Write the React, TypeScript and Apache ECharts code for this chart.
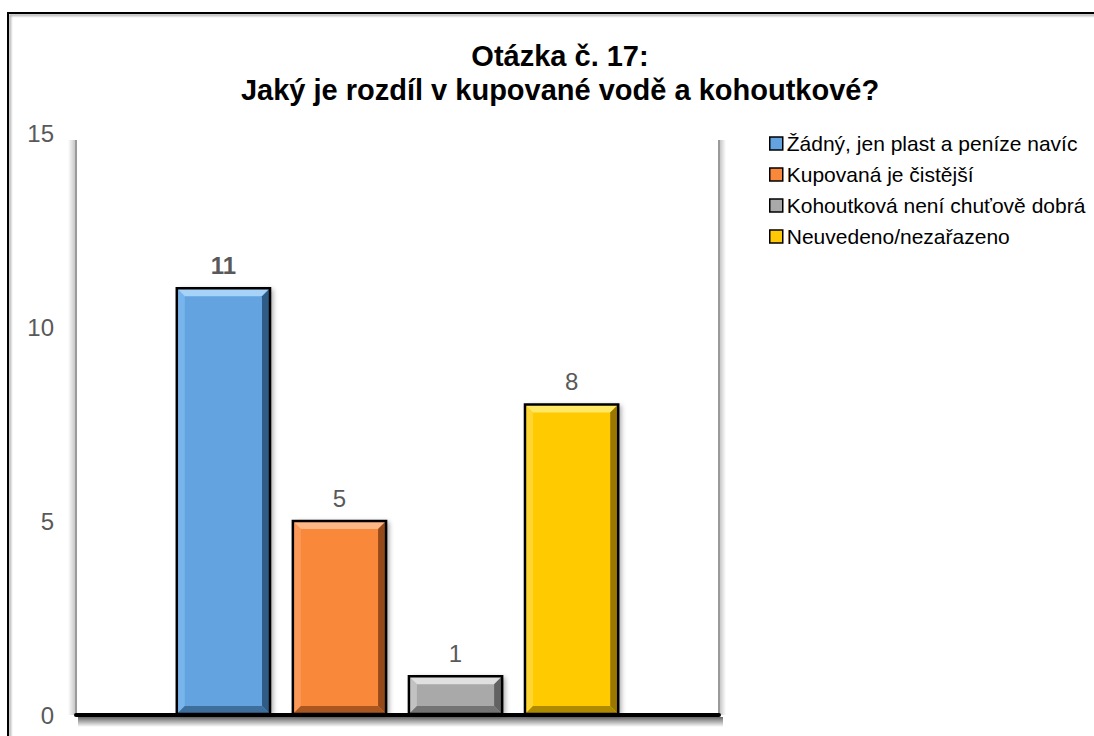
import React, { useEffect, useRef } from 'react';
import * as echarts from 'echarts';

// ---- data ----
const categories: string[] = [''];
const seriesNames: string[] = [
  'Žádný, jen plast a peníze navíc',
  'Kupovaná je čistější',
  'Kohoutková není chuťově dobrá',
  'Neuvedeno/nezařazeno',
];
const seriesValues: number[] = [11, 5, 1, 8];
const yMin = 0;
const yMax = 15;
const yInterval = 5;
const titleLines: string[] = ['Otázka č. 17:', 'Jaký je rozdíl v kupované vodě a kohoutkové?'];

// ---- layout / styles ----
const FONT = '"Liberation Sans", Arial, Helvetica, sans-serif';
const GRID = { left: 76, right: 375, top: 133, bottom: 21 };
const W = 1094;
const H = 736;
const WALL_INSET = 7;
const palettes = [
  { base: '#62A3E0', top: '#A6D3F7', left: '#78B5EC', right: '#2F5C86', bottom: '#3D6E9C' },
  { base: '#F9883A', top: '#FDB887', left: '#FB9858', right: '#94491A', bottom: '#AA5620' },
  { base: '#A9A9A9', top: '#E0E0E0', left: '#C2C2C2', right: '#626262', bottom: '#747474' },
  { base: '#FFCA05', top: '#FFE866', left: '#FFD631', right: '#9A7800', bottom: '#AE8A00' },
];
const labelBold = [true, false, false, false];

function makeRenderItem(idx: number) {
  const p = palettes[idx];
  return (params: any, api: any) => {
    const c = api.value(0);
    const v = api.value(1);
    const base = api.coord([c, 0]);
    const top = api.coord([c, v]);
    const band = api.size([1, 0])[0];
    const n = seriesValues.length;
    const w = band * 0.145;
    const step = band * 0.1805;
    const cx = base[0] + (params.seriesIndex - (n - 1) / 2) * step;
    const x0 = cx - w / 2;
    const x1 = cx + w / 2;
    const y0 = top[1];
    const y1 = base[1] - 1;
    const h = y1 - y0;
    const b = Math.min(8, h / 2 - 1);
    return {
      type: 'group',
      children: [
        {
          type: 'rect',
          shape: { x: x0, y: y0, width: w, height: h },
          style: {
            fill: p.base,
            shadowBlur: 5, shadowOffsetX: 3, shadowOffsetY: 1,
            shadowColor: 'rgba(0,0,0,0.35)',
          },
        },
        {
          type: 'polygon',
          shape: { points: [[x0, y0], [x0 + b, y0 + b], [x0 + b, y1 - b], [x0, y1]] },
          style: { fill: p.left },
        },
        {
          type: 'polygon',
          shape: { points: [[x0, y0], [x1, y0], [x1 - b, y0 + b], [x0 + b, y0 + b]] },
          style: { fill: p.top },
        },
        {
          type: 'polygon',
          shape: { points: [[x1, y0], [x1, y1], [x1 - b, y1 - b], [x1 - b, y0 + b]] },
          style: { fill: p.right },
        },
        {
          type: 'polygon',
          shape: { points: [[x0, y1], [x1, y1], [x1 - b, y1 - b], [x0 + b, y1 - b]] },
          style: { fill: p.bottom },
        },
        {
          type: 'rect',
          shape: { x: x0, y: y0, width: w, height: h },
          style: { fill: 'none', stroke: '#000', lineWidth: 2.5 },
        },
        {
          type: 'text',
          style: {
            text: String(v),
            x: cx,
            y: y0 - 23,
            align: 'center',
            verticalAlign: 'middle',
            fill: '#595959',
            fontSize: 24,
            fontWeight: labelBold[idx] ? 'bold' : 'normal',
            fontFamily: FONT,
          },
        },
      ],
    };
  };
}

export default function App() {
  const ref = useRef<HTMLDivElement>(null);
  useEffect(() => {
    if (!ref.current) return;
    const chart = echarts.init(ref.current, null, { renderer: 'svg' });
    const series = seriesNames.map((name, i) => ({
      name,
      type: 'custom',
      renderItem: makeRenderItem(i),
      encode: { x: 0, y: 1 },
      clip: false,
      itemStyle: { color: palettes[i].base },
      data: categories.map((_, ci) => [ci, seriesValues[i]]),
      z: 3,
    }));
    const plotL = GRID.left;
    const plotR = W - GRID.right;
    const plotT = GRID.top;
    const plotB = H - GRID.bottom;
    const wallTop = plotT + WALL_INSET;
    chart.setOption({
      animation: false,
      backgroundColor: '#fff',
      title: {
        text: titleLines.join('\n'),
        left: 555,
        top: 34,
        textAlign: 'center',
        textStyle: {
          fontFamily: FONT,
          fontSize: 29,
          fontWeight: 'bold',
          lineHeight: 34,
          color: '#000',
        },
      },
      legend: {
        orient: 'vertical',
        left: 769,
        top: 133,
        padding: 0,
        itemWidth: 13,
        itemHeight: 13,
        itemGap: 10,
        icon: 'rect',
        itemStyle: { borderColor: '#000', borderWidth: 1.5 },
        textStyle: { fontFamily: FONT, fontSize: 21, color: '#000', lineHeight: 21, padding: [0, 0, 0, -1] },
        data: seriesNames,
      },
      graphic: [
        {
          type: 'rect',
          silent: true,
          z: -10,
          shape: { x: 8, y: 13, width: 1300, height: 900 },
          style: {
            fill: 'none', stroke: '#000', lineWidth: 2,
            shadowBlur: 2, shadowOffsetX: 2, shadowOffsetY: 2, shadowColor: 'rgba(0,0,0,0.35)',
          },
        },
        // wall / floor shading
        {
          type: 'rect', silent: true, z: -5,
          shape: { x: plotL - 8, y: wallTop, width: 7, height: plotB - wallTop },
          style: {
            fill: {
              type: 'linear', x: 0, y: 0, x2: 1, y2: 0,
              colorStops: [{ offset: 0, color: 'rgba(0,0,0,0)' }, { offset: 1, color: 'rgba(0,0,0,0.22)' }],
            },
          },
        },
        {
          type: 'rect', silent: true, z: -5,
          shape: { x: plotR + 1, y: wallTop, width: 6, height: plotB - wallTop },
          style: {
            fill: {
              type: 'linear', x: 0, y: 0, x2: 1, y2: 0,
              colorStops: [{ offset: 0, color: 'rgba(0,0,0,0.22)' }, { offset: 1, color: 'rgba(0,0,0,0)' }],
            },
          },
        },
        {
          type: 'line', silent: true, z: -4,
          shape: { x1: plotL, y1: wallTop, x2: plotL, y2: plotB },
          style: { stroke: '#9A9A9A', lineWidth: 2 },
        },
        {
          type: 'line', silent: true, z: -4,
          shape: { x1: plotR, y1: wallTop, x2: plotR, y2: plotB },
          style: { stroke: '#9A9A9A', lineWidth: 2 },
        },
        {
          type: 'rect', silent: true, z: -5,
          shape: { x: plotL + 2, y: plotB + 2, width: plotR - plotL + 2, height: 10 },
          style: {
            fill: {
              type: 'linear', x: 0, y: 0, x2: 0, y2: 1,
              colorStops: [{ offset: 0, color: 'rgba(0,0,0,0.6)' }, { offset: 1, color: 'rgba(0,0,0,0)' }],
            },
          },
        },
      ],
      grid: GRID,
      xAxis: {
        type: 'category',
        data: categories,
        axisLine: { show: true, lineStyle: { color: '#000', width: 4 } },
        axisTick: { show: false },
        axisLabel: { show: false },
        z: 5,
      },
      yAxis: [
        {
          type: 'value',
          min: yMin,
          max: yMax,
          interval: yInterval,
          axisLine: { show: false },
          axisTick: { show: false },
          splitLine: { show: false },
          axisLabel: {
            color: '#595959',
            fontSize: 24,
            fontFamily: FONT,
            align: 'right',
            margin: 22,
          },
        },
      ],
      series,
    });
    return () => chart.dispose();
  }, []);
  return (
    <div
      ref={ref}
      style={{ position: 'absolute', left: 0, top: 0, width: W, height: H }}
    />
  );
}
